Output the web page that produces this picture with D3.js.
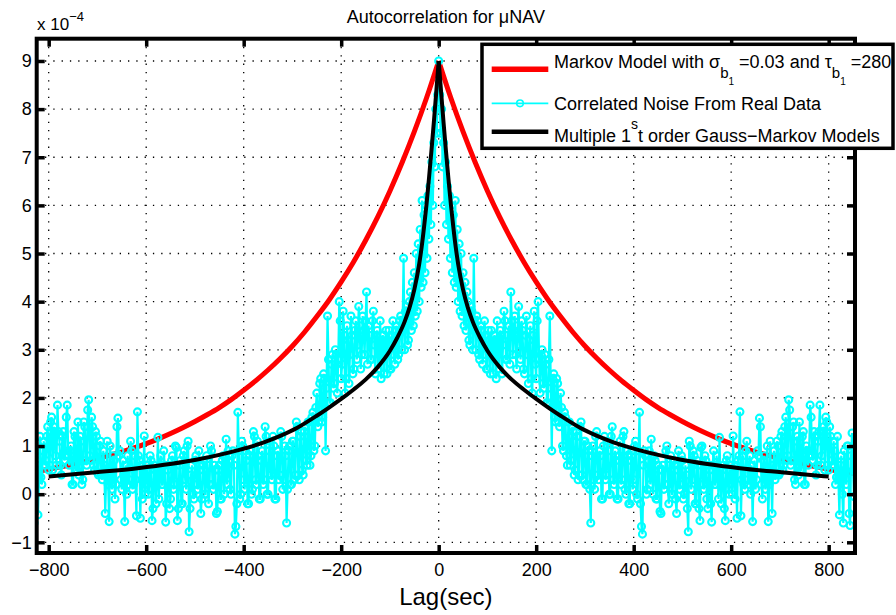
<!DOCTYPE html>
<html><head><meta charset="utf-8">
<script src="https://cdn.jsdelivr.net/npm/d3@7"></script>
<style>
body{margin:0;background:#fff}
text{font-family:"Liberation Sans",Arial,Helvetica,sans-serif;fill:#000}
</style>
</head><body>
<svg id="c" width="896" height="615"></svg>
<script>
// ---------- data (values in units of 1e-4) ----------
const xTicks = [-800,-600,-400,-200,0,200,400,600,800];
const yTicks = [-1,0,1,2,3,4,5,6,7,8,9];

// Markov model (red), positive lags; curve is symmetric about 0
const redLags = [0,25,50,75,100,125,150,175,200,225,250,275,300,325,350,375,400,425,450,475,500,525,550,575,600,625,650,675,700,725,750,775,800,825,850];
const redVals = [9.00,8.23,7.53,6.89,6.30,5.76,5.27,4.82,4.41,4.03,3.69,3.37,3.08,2.82,2.58,2.36,2.16,1.97,1.80,1.65,1.51,1.38,1.26,1.15,1.05,0.96,0.88,0.81,0.74,0.68,0.62,0.57,0.52,0.47,0.43];

// Multiple 1st order Gauss-Markov models (black), positive lags
const blackLags = [0,5,10,15,20,25,30,35,40,50,60,70,85,100,125,150,175,200,225,250,290,325,360,413,495,618,703,800];
const blackVals = [9.0,8.35,7.72,7.12,6.55,6.02,5.55,5.13,4.78,4.25,3.87,3.58,3.25,2.98,2.64,2.38,2.17,1.98,1.80,1.63,1.38,1.21,1.07,0.91,0.72,0.54,0.455,0.366];

// Correlated noise from real data (cyan), positive lags every 2 s; symmetric about 0
const noiseStep = 2;
const noiseVals = [
 9.0,8.3,7.5,8.0,6.8,7.3,6.0,6.9,5.6,6.4,
 5.3,6.2,4.9,6.0,4.6,5.8,4.4,6.1,4.3,5.5,
 4.0,5.2,3.8,5.0,3.7,4.6,3.5,4.4,3.4,4.2,
 4.0,3.2,3.1,3.9,3.8,3.0,4.9,3.5,3.0,3.7,
 3.6,2.9,2.8,3.5,3.4,2.7,2.9,3.6,3.3,2.6,
 2.6,3.4,3.2,2.5,3.4,3.0,2.5,3.3,3.2,2.4,
 3.6,2.9,2.6,3.4,3.3,2.5,3.1,3.8,3.6,2.8,
 2.8,3.3,3.5,2.7,4.2,3.6,2.9,3.4,3.7,2.9,
 2.6,3.5,3.9,3.1,2.8,3.6,3.4,2.6,2.5,3.3,
 3.7,2.9,2.3,3.2,3.5,2.4,2.1,3.3,3.8,2.7,
 2.4,3.6,4.0,2.8,2.1,2.9,3.0,2.3,2.2,2.9,
 2.7,1.9,1.9,2.8,3.7,2.2,0.9,2.4,2.5,1.6,
 1.5,2.4,2.3,1.5,1.4,2.1,1.8,1.0,0.9,1.7,
 1.6,0.8,0.6,1.5,1.5,0.6,0.7,1.4,1.3,0.4,
 0.5,1.3,1.2,0.3,0.4,1.4,1.5,0.4,0.3,1.1,
 1.1,0.2,0.2,1.0,0.9,0.1,-0.6,0.8,1.0,0.3,
 0.1,1.2,1.3,0.4,0.3,0.9,0.8,-0.1,-0.1,1.0,
 1.2,0.3,0.4,1.1,0.9,0.0,0.0,1.2,1.4,0.3,
 0.2,0.9,0.7,-0.1,-0.1,0.8,1.1,0.2,0.3,1.2,
 1.3,0.1,0.0,0.9,0.8,-0.2,-0.2,0.7,0.9,0.1,
 0.3,1.0,1.1,0.0,-0.1,0.9,1.7,-0.2,-0.67,-0.83,
 0.6,0.9,0.8,0.0,0.1,0.7,0.9,0.2,1.14,0.4,
 0.0,0.8,0.7,-0.1,-0.1,0.6,0.5,-0.36,-0.4,0.5,
 0.6,0.1,0.2,0.9,1.0,0.2,-0.2,0.6,0.8,0.0,
 0.0,0.7,0.6,-0.1,-0.4,0.5,0.9,0.1,0.2,0.8,
 0.7,-0.1,0.0,0.6,0.4,-0.3,-0.78,1.1,1.0,0.1,
 0.3,0.9,0.8,-0.2,-0.2,0.7,0.6,-0.3,-0.55,0.97,
 1.0,0.2,0.1,0.8,0.7,-0.1,-0.3,0.6,0.5,-0.2,
 -0.58,0.6,0.9,0.2,0.2,0.8,0.6,-0.1,1.18,0.3,
 -0.2,0.5,0.6,-0.3,-0.55,0.7,0.8,0.1,0.0,0.6,
 0.6,0.0,1.21,0.3,-0.1,0.6,-0.5,0.7,0.8,1.71,
 -0.45,0.3,0.8,0.2,0.1,0.9,1.1,0.3,0.2,0.8,
 0.0,0.6,-0.57,0.4,0.7,0.1,0.3,0.9,0.8,1.58,
 1.4,0.2,-0.1,0.7,0.8,0.1,0.3,1.0,-0.57,0.2,
 1.1,0.4,-0.4,0.6,0.9,0.3,0.4,1.1,1.0,0.4,
 0.45,1.2,1.3,0.5,0.6,1.4,1.6,0.7,0.8,1.96,
 1.75,0.6,0.7,1.4,1.5,0.3,0.2,1.1,1.2,0.4,
 1.5,0.5,0.5,1.2,1.3,0.2,0.2,1.0,0.9,0.6,
 0.9,1.85,1.6,0.8,0.7,1.3,1.2,0.4,0.6,1.1,
 1.3,1.85,0.6,0.8,1.3,1.4,0.5,1.6,1.5,0.6,
 0.5,1.4,1.2,0.7,0.6,1.1,0.9,0.2,0.35,1.2,
 0.3,-0.43,0.6,0.8,0.0,-0.6,0.9,0.5,0.2,1.0,
 1.0,-0.4,-0.65,0.8,1.27,0.5,-0.05
];

const legendLabels = ["Correlated Noise From Real Data"];

// ---------- layout ----------
const svg = d3.select("#c");
const L = 36.7, R = 855, T = 38.7, B = 553;
const x = d3.scaleLinear().domain([-824.6, 854]).range([L, R]);
const y = d3.scaleLinear().domain([-1.222, 9.463]).range([B, T]);

// grid
const grid = svg.append("g").attr("stroke","#000").attr("stroke-width",1.3).attr("stroke-dasharray","1.3,7");
xTicks.forEach(t => grid.append("line").attr("x1",x(t)).attr("x2",x(t)).attr("y1",T).attr("y2",B));
yTicks.forEach(t => grid.append("line").attr("y1",y(t)).attr("y2",y(t)).attr("x1",L).attr("x2",R));

// clip
svg.append("clipPath").attr("id","clip").append("rect").attr("x",L).attr("y",T).attr("width",R-L).attr("height",B-T);
const plot = svg.append("g").attr("clip-path","url(#clip)");

function halves(lags, vals){
  const right = lags.map((l,i)=>[l, vals[i]]);
  const left = lags.map((l,i)=>[-l, vals[i]]).reverse();
  return [left, right];
}
const smooth = d3.line().x(d=>x(d[0])).y(d=>y(d[1])).curve(d3.curveMonotoneX);

// red
halves(redLags, redVals).forEach(h => plot.append("path").attr("d", smooth(h))
  .attr("fill","none").attr("stroke","#ff0000").attr("stroke-width",5).attr("stroke-linejoin","round"));

// cyan
const noiseLags = noiseVals.map((v,i)=>i*noiseStep);
const noisePts = [];
for (let i = noiseVals.length-1; i >= 1; i--) noisePts.push([-noiseLags[i], noiseVals[i]]);
for (let i = 0; i < noiseVals.length; i++) noisePts.push([noiseLags[i], noiseVals[i]]);
const lin = d3.line().x(d=>x(d[0])).y(d=>y(d[1]));
plot.append("path").attr("d", lin(noisePts)).attr("fill","none").attr("stroke","#00ffff").attr("stroke-width",2.2);
plot.append("g").selectAll("circle").data(noisePts).join("circle")
  .attr("cx",d=>x(d[0])).attr("cy",d=>y(d[1])).attr("r",3.5)
  .attr("fill","none").attr("stroke","#00ffff").attr("stroke-width",2.1);

// black
halves(blackLags, blackVals).forEach(h => plot.append("path").attr("d", smooth(h))
  .attr("fill","none").attr("stroke","#000").attr("stroke-width",4).attr("stroke-linejoin","round"));

// axes
const fs = "18px";
const ax = [
  svg.append("g").attr("transform",`translate(0,${B})`).call(d3.axisBottom(x).tickValues(xTicks).tickSize(-8).tickPadding(10)),
  svg.append("g").attr("transform",`translate(0,${T})`).call(d3.axisTop(x).tickValues(xTicks).tickSize(-8).tickFormat("")),
  svg.append("g").attr("transform",`translate(${L},0)`).call(d3.axisLeft(y).tickValues(yTicks).tickSize(-8).tickPadding(5)),
  svg.append("g").attr("transform",`translate(${R},0)`).call(d3.axisRight(y).tickValues(yTicks).tickSize(-8).tickFormat(""))
];
ax.forEach(g => {
  g.select(".domain").remove();
  g.selectAll(".tick line").attr("stroke","#000").attr("stroke-width",3.5);
  g.selectAll(".tick text").attr("font-size",fs).attr("font-family","Liberation Sans, Arial, sans-serif").attr("fill","#000");
});
svg.append("rect").attr("x",L).attr("y",T).attr("width",R-L).attr("height",B-T)
  .attr("fill","none").attr("stroke","#000").attr("stroke-width",4);

// title & labels
svg.append("text").attr("x",(L+R)/2).attr("y",23).attr("text-anchor","middle").attr("font-size","18px")
  .text("Autocorrelation for \u03bcNAV");
svg.append("text").attr("x",(L+R)/2).attr("y",605).attr("text-anchor","middle").attr("font-size","24px")
  .text("Lag(sec)");
const ex = svg.append("text").attr("x",37).attr("y",30).attr("font-size","17px");
ex.append("tspan").text("x 10");
ex.append("tspan").attr("font-size","13px").attr("dy",-9).text("\u22124");

// legend
const lg = svg.append("g");
lg.append("rect").attr("x",482).attr("y",44.3).attr("width",411).attr("height",104)
  .attr("fill","#fff").attr("stroke","#000").attr("stroke-width",3.5);
const lx1 = 491.7, lx2 = 548.3, tx = 554;
lg.append("line").attr("x1",lx1).attr("x2",lx2).attr("y1",69.3).attr("y2",69.3).attr("stroke","#ff0000").attr("stroke-width",5.5);
lg.append("line").attr("x1",lx1).attr("x2",lx2).attr("y1",103.3).attr("y2",103.3).attr("stroke","#00ffff").attr("stroke-width",1.8);
lg.append("circle").attr("cx",(lx1+lx2)/2).attr("cy",103.3).attr("r",3.3).attr("fill","none").attr("stroke","#00ffff").attr("stroke-width",1.6);
lg.append("line").attr("x1",lx1).attr("x2",lx2).attr("y1",131.7).attr("y2",131.7).attr("stroke","#000").attr("stroke-width",4.5);

const t1 = lg.append("text").attr("x",tx).attr("y",68.3).attr("font-size","18px");
t1.append("tspan").text("Markov Model with \u03c3");
t1.append("tspan").attr("font-size","15px").attr("dy",10).text("b");
t1.append("tspan").attr("font-size","10px").attr("dy",7).text("1");
t1.append("tspan").attr("font-size","18px").attr("dy",-17).text(" =0.03 and \u03c4");
t1.append("tspan").attr("font-size","15px").attr("dy",10).text("b");
t1.append("tspan").attr("font-size","10px").attr("dy",7).text("1");
t1.append("tspan").attr("font-size","18px").attr("dy",-17).text(" =280");

lg.append("text").attr("x",tx).attr("y",110).attr("font-size","18px").text(legendLabels[0]);

const t3 = lg.append("text").attr("x",tx).attr("y",141.7).attr("font-size","18px");
t3.append("tspan").text("Multiple 1");
t3.append("tspan").attr("font-size","14px").attr("dy",-13).text("s");
t3.append("tspan").attr("font-size","18px").attr("dy",13).text("t order Gauss\u2212Markov Models");
</script>
</body></html>
